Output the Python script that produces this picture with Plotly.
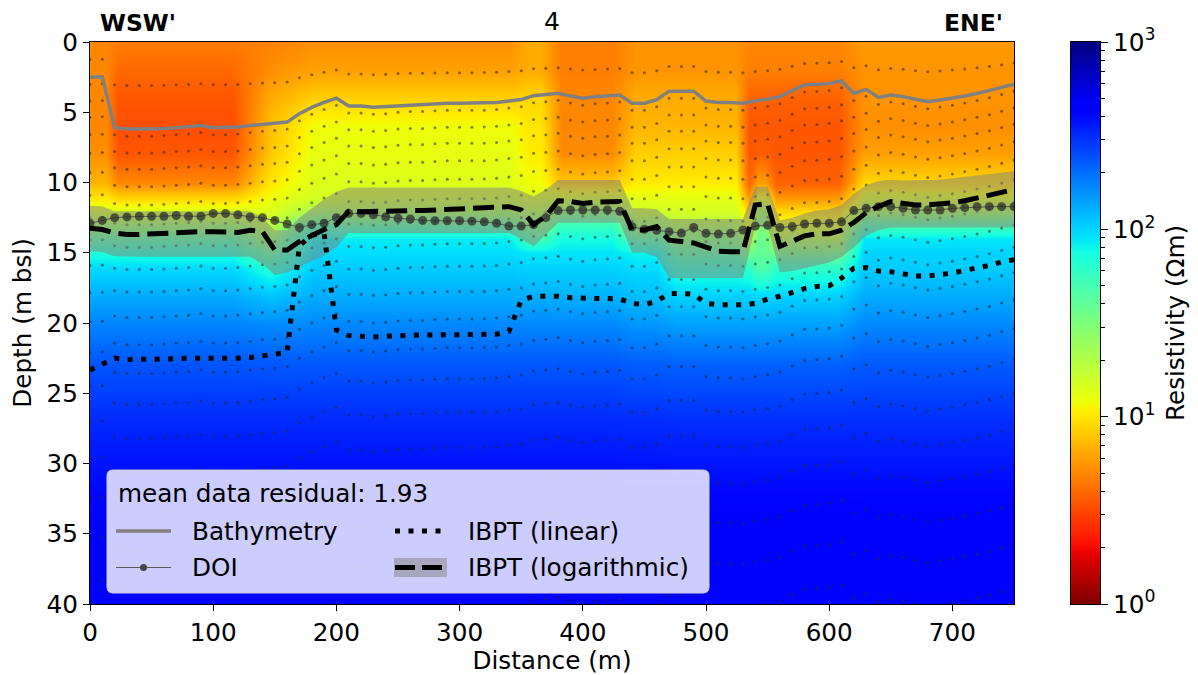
import numpy as np
import plotly.graph_objects as go

# ---------------- data ----------------
sounding_x = list(range(0, 751, 10))

bathymetry = [2.5, 2.47, 6.1, 6.2, 6.2, 6.2, 6.15, 6.1, 6.05, 5.95,
              6.1, 6.1, 6.05, 5.95, 5.85, 5.8, 5.7, 5.1, 4.65, 4.3,
              4.0, 4.55, 4.55, 4.65, 4.6, 4.5, 4.45, 4.45, 4.4, 4.36,
              4.36, 4.36, 4.35, 4.3, 4.2, 4.1, 3.82, 3.75, 3.65, 3.85,
              4.0, 3.9, 3.85, 3.77, 4.36, 4.36, 4.1, 3.5, 3.5, 3.5,
              4.2, 4.3, 4.3, 4.36, 4.2, 4.08, 3.89, 3.45, 3.05, 3.02,
              2.95, 2.76, 3.66, 3.37, 3.94, 3.77, 3.89, 4.08, 4.25, 4.13,
              4.0, 3.84, 3.66, 3.47, 3.23, 3.0]

doi = [12.9, 12.7, 12.5, 12.45, 12.4, 12.4, 12.4, 12.35, 12.4, 12.4,
       12.2, 12.2, 12.3, 12.45, 12.5, 12.7, 12.95, 13.2, 13.0, 12.9,
       12.5, 12.2, 12.2, 12.3, 12.45, 12.55, 12.6, 12.7, 12.72, 12.72,
       12.72, 12.75, 12.8, 12.9, 13.1, 13.1, 13.0, 12.5, 12.0, 11.96,
       11.96, 11.96, 11.96, 12.05, 13.15, 13.33, 13.4, 13.5, 13.6, 13.2,
       13.62, 13.67, 13.62, 13.38, 13.1, 13.05, 13.2, 13.14, 12.95, 12.9,
       12.9, 12.8, 12.0, 11.84, 11.72, 11.72, 11.84, 11.96, 11.96, 11.96,
       11.84, 11.79, 11.72, 11.72, 11.72, 11.72]

ibpt_linear = [23.35, 22.9, 22.5, 22.6, 22.6, 22.6, 22.55, 22.55, 22.5, 22.5,
               22.55, 22.55, 22.5, 22.45, 22.35, 22.25, 22.1, 14.5, 13.75, 13.6,
               20.5, 20.9, 20.95, 21.0, 20.95, 20.9, 20.9, 20.85, 20.85, 20.85,
               20.85, 20.8, 20.8, 20.8, 20.6, 18.4, 18.1, 18.1, 18.1, 18.2,
               18.25, 18.25, 18.25, 18.3, 18.6, 18.7, 18.45, 17.9, 17.9, 17.95,
               18.6, 18.7, 18.7, 18.7, 18.6, 18.3, 18.1, 17.85, 17.55, 17.4,
               17.35, 16.8, 16.1, 16.05, 16.3, 16.35, 16.5, 16.65, 16.65, 16.55,
               16.45, 16.25, 16.1, 15.9, 15.65, 15.5]

ibpt_log = [13.26, 13.35, 13.6, 13.7, 13.7, 13.65, 13.6, 13.55, 13.5, 13.5,
            13.5, 13.55, 13.55, 13.4, 13.5, 14.8, 14.8, 14.2, 13.75, 13.35,
            13.0, 12.05, 12.08, 12.05, 12.0, 12.0, 12.0, 12.0, 11.95, 11.95,
            11.9, 11.86, 11.8, 11.72, 11.72, 11.95, 13.0, 12.4, 11.3, 11.35,
            11.5, 11.4, 11.36, 11.36, 13.38, 13.38, 13.14, 14.1, 14.2, 14.3,
            14.6, 14.9, 14.93, 14.93, 11.6, 11.5, 14.55, 14.2, 13.8, 13.65,
            13.65, 13.4, 12.85, 12.15, 11.7, 11.36, 11.5, 11.6, 11.6, 11.55,
            11.45, 11.3, 11.1, 10.9, 10.75, 10.5]

ibpt_log_shallow = [11.65, 11.7, 12.05, 12.05, 12.05, 12.05, 12.05, 12.05, 12.05, 12.05,
                    12.05, 12.05, 12.05, 12.05, 12.5, 13.4, 13.4, 12.5, 11.85, 11.2,
                    10.65, 10.35, 10.35, 10.35, 10.35, 10.35, 10.35, 10.35, 10.35, 10.35,
                    10.35, 10.35, 10.35, 10.35, 10.35, 10.6, 11.0, 10.5, 9.82, 9.82,
                    9.82, 9.82, 9.82, 9.82, 11.84, 11.84, 11.9, 12.6, 12.6, 12.6,
                    12.6, 12.6, 12.6, 12.6, 10.3, 10.3, 12.7, 12.5, 12.2, 12.0,
                    11.9, 11.6, 10.8, 10.2, 9.9, 9.8, 9.85, 9.85, 9.85, 9.8,
                    9.7, 9.6, 9.5, 9.4, 9.3, 9.2]

ibpt_log_deep = [14.9, 14.95, 15.25, 15.28, 15.28, 15.28, 15.28, 15.28, 15.28, 15.28,
                 15.28, 15.28, 15.28, 15.28, 15.8, 16.6, 16.4, 16.0, 15.6, 15.2,
                 14.6, 13.6, 13.6, 13.6, 13.6, 13.6, 13.6, 13.6, 13.6, 13.6,
                 13.6, 13.6, 13.6, 13.6, 13.6, 14.0, 14.55, 13.7, 12.86, 12.86,
                 12.86, 12.86, 12.86, 12.86, 15.0, 15.0, 15.3, 16.8, 16.8, 16.8,
                 16.8, 16.8, 16.8, 16.8, 13.15, 13.15, 16.4, 16.3, 16.1, 15.9,
                 15.7, 15.3, 14.6, 13.8, 13.4, 13.2, 13.2, 13.2, 13.2, 13.2,
                 13.2, 13.2, 13.2, 13.2, 13.2, 13.2]

# layer centres below the sea floor of the inversion mesh (m)
mesh_layer_offsets = [0.5, 1.7, 2.85, 4.1, 5.4, 6.8, 8.4, 10.0, 11.6, 13.4,
                      15.35, 17.4, 19.6, 22.0, 24.5, 27.1, 29.9, 32.8, 35.9]

# resistivity section (Ohm m): vertical profiles at depth nodes
res_depths = [0, 2, 4, 6, 8, 10, 11, 12, 13, 14, 15, 16, 18, 20, 23, 27, 32, 40]
res_profiles = {
    "edge":      [5.0, 5.0, 5.0, 5.0, 5.3, 7.0, 10, 14, 25, 45, 70, 95, 130, 170, 240, 320, 410, 450],
    "red":       [4.6, 4.0, 3.5, 3.3, 3.5, 5.0, 8.5, 14, 25, 45, 70, 95, 130, 170, 240, 320, 410, 450],
    "trans":     [4.8, 5.3, 6.5, 7.5, 8.0, 10, 12, 14, 18, 26, 40, 65, 110, 160, 235, 320, 410, 450],
    "yellow":    [5.3, 6.0, 8.5, 12, 13, 14, 15, 22, 45, 85, 95, 105, 130, 165, 235, 320, 410, 450],
    "ystripe":   [6.5, 6.5, 9.0, 10, 10.5, 12, 14, 20, 30, 50, 88, 100, 128, 165, 235, 320, 410, 460],
    "omid":      [4.7, 4.7, 5.0, 5.0, 5.2, 8.0, 14, 28, 55, 75, 90, 100, 125, 165, 235, 320, 410, 460],
    "lorange_a": [5.5, 5.5, 6.5, 7.0, 8.5, 10.5, 13, 16, 25, 45, 80, 95, 115, 150, 225, 315, 410, 470],
    "lorange":   [5.5, 5.5, 6.5, 7.0, 8.5, 10.5, 13, 15, 20, 30, 45, 65, 100, 140, 220, 310, 410, 470],
    "red2":      [5.0, 4.7, 3.8, 3.5, 3.5, 3.8, 5.5, 9, 13, 20, 35, 60, 100, 140, 220, 310, 410, 470],
    "spike":     [5.0, 4.7, 3.8, 3.5, 3.7, 6.0, 12, 22, 30, 36, 40, 45, 95, 140, 220, 310, 410, 470],
    "right":     [5.7, 5.5, 5.5, 5.3, 6.0, 9.0, 13, 22, 50, 88, 100, 105, 130, 165, 230, 310, 410, 480],
}
res_column_x = [0, 13, 23, 116, 146, 182, 340, 356, 366, 382, 424, 442, 460, 476,
                524, 535, 542, 548, 557, 608, 628, 750]
res_column_profile = ["edge", "edge", "red", "red", "trans", "yellow", "yellow", "ystripe",
                      "ystripe", "omid", "omid", "lorange_a", "lorange_a", "lorange",
                      "lorange", "red2", "spike", "spike", "red2", "red2", "right", "right"]

colorbar_ticks = [0, 1, 2, 3]
colorbar_ticktext = ["10<sup>0</sup>", "10<sup>1</sup>", "10<sup>2</sup>", "10<sup>3</sup>"]

# ---------------- colour map (matplotlib jet, reversed) ----------------
jet = {
    "r": [(0, 0), (0.35, 0), (0.66, 1), (0.89, 1), (1, 0.5)],
    "g": [(0, 0), (0.125, 0), (0.375, 1), (0.64, 1), (0.91, 0), (1, 0)],
    "b": [(0, 0.5), (0.11, 1), (0.34, 1), (0.65, 0), (1, 0)],
}
bps = sorted({p for ch in jet.values() for p, _ in ch})


def jet_rgb(t):
    out = []
    for ch in ("r", "g", "b"):
        xs = [p for p, _ in jet[ch]]
        vs = [v for _, v in jet[ch]]
        out.append(int(round(255 * float(np.interp(t, xs, vs)))))
    return "rgb(%d,%d,%d)" % tuple(out)


jet_r_scale = [[1 - t, jet_rgb(t)] for t in reversed(bps)]
jet_r_scale[0][0] = 0.0
jet_r_scale[-1][0] = 1.0

# ---------------- figure ----------------
FONT = "DejaVu Sans"
FS = 24.7
z = [[np.log10(res_profiles[p][i]) for p in res_column_profile] for i in range(len(res_depths))]

fig = go.Figure()
fig.add_trace(go.Heatmap(x=res_column_x, y=res_depths, z=z, zmin=0, zmax=3,
                         colorscale=jet_r_scale, zsmooth="best", showscale=False,
                         hoverinfo="skip", xaxis="x", yaxis="y"))

# mesh cell centres
mx, my = [], []
for xs, b in zip(sounding_x, bathymetry):
    mx.append(xs)
    my.append(b / 2.0)
    for off in mesh_layer_offsets:
        if b + off <= 40:
            mx.append(xs)
            my.append(b + off)
fig.add_trace(go.Scatter(x=mx, y=my, mode="markers",
                         marker=dict(size=3, color="rgba(40,40,40,0.55)"),
                         hoverinfo="skip"))

# IBPT uncertainty band
fig.add_trace(go.Scatter(x=sounding_x, y=ibpt_log_shallow, mode="lines",
                         line=dict(width=0, color="rgba(0,0,0,0)"), hoverinfo="skip"))
fig.add_trace(go.Scatter(x=sounding_x, y=ibpt_log_deep, mode="lines", fill="tonexty",
                         fillcolor="rgba(128,128,128,0.5)",
                         line=dict(width=0, color="rgba(0,0,0,0)"), hoverinfo="skip"))

fig.add_trace(go.Scatter(x=sounding_x, y=bathymetry, mode="lines", name="Bathymetry",
                         line=dict(color="rgb(128,128,128)", width=3.5)))
fig.add_trace(go.Scatter(x=sounding_x, y=doi, mode="lines+markers", name="DOI",
                         line=dict(color="rgba(80,80,80,0.9)", width=1),
                         marker=dict(size=9, color="rgba(40,40,40,0.72)")))
fig.add_trace(go.Scatter(x=sounding_x, y=ibpt_linear, mode="lines", name="IBPT (linear)",
                         line=dict(color="black", width=5, dash="5px,8.5px")))
fig.add_trace(go.Scatter(x=sounding_x, y=ibpt_log, mode="lines", name="IBPT (logarithmic)",
                         line=dict(color="black", width=5, dash="21px,8px")))

# colour bar drawn on its own axes
levels = np.linspace(0, 3, 301)
fig.add_trace(go.Heatmap(x=[0.5], y=levels, z=[[v] for v in levels], zmin=0, zmax=3,
                         colorscale=jet_r_scale, showscale=False, hoverinfo="skip",
                         xaxis="x2", yaxis="y2"))

# ---------------- layout ----------------
# the page body adds an 8 px offset, so the figure is 8 px smaller and margins shifted
OFF = 8
W, H = 1198 - OFF, 675 - OFF
L, R, T, B = 90 - OFF, 98, 42 - OFF, 71
plot_w = W - L - R  # 1010
main_w = 924
cb_left = 981

axis_common = dict(showline=True, linecolor="black", linewidth=1.2, mirror=True,
                   showgrid=False, zeroline=False, ticks="outside", ticklen=6,
                   tickwidth=1.2, tickcolor="black", automargin=False,
                   tickfont=dict(family=FONT, size=FS, color="black"))

fig.update_layout(
    width=W, height=H, margin=dict(l=L, r=R, t=T, b=B, autoexpand=False),
    plot_bgcolor="white", paper_bgcolor="white", showlegend=False,
    font=dict(family=FONT, size=FS, color="black"),
    xaxis=dict(domain=[0, main_w / plot_w], range=[0, 750],
               tickvals=[0, 100, 200, 300, 400, 500, 600, 700],
               title=dict(text="Distance (m)", font=dict(family=FONT, size=FS), standoff=6),
               **axis_common),
    yaxis=dict(domain=[0, 1], range=[40, 0], tickvals=[0, 5, 10, 15, 20, 25, 30, 35, 40],
               title=dict(text="Depth (m bsl)", font=dict(family=FONT, size=FS), standoff=10),
               **axis_common),
    xaxis2=dict(domain=[cb_left / plot_w, 1], range=[0, 1], anchor="y2", automargin=False,
                showticklabels=False, ticks="", showline=True, linecolor="black",
                linewidth=1.2, mirror=True, showgrid=False, zeroline=False),
    yaxis2=dict(domain=[0, 1], range=[0, 3], anchor="x2", side="right", automargin=False,
                tickvals=colorbar_ticks, ticktext=colorbar_ticktext,
                ticks="outside", ticklen=7, tickwidth=1.2, tickcolor="black",
                minor=dict(tickvals=[float(np.log10(k * 10 ** n)) for n in range(3) for k in range(2, 10)],
                           ticks="outside", ticklen=4, tickwidth=1, tickcolor="black"),
                showline=True, linecolor="black", linewidth=1.2, mirror=True,
                showgrid=False, zeroline=False,
                tickfont=dict(family=FONT, size=FS, color="black"),
                title=dict(text="Resistivity (Ωm)", font=dict(family=FONT, size=FS), standoff=12)),
)

# titles above the section
ann = [
    dict(text="4", x=0.5, y=(604 - 22) / 562, xref="x domain", yref="y domain",
         showarrow=False, xanchor="center", yanchor="middle",
         font=dict(family=FONT, size=25, color="black")),
    dict(text="<b>WSW'</b>", x=8 / main_w, y=(604 - 23) / 562, xref="x domain", yref="y domain",
         showarrow=False, xanchor="left", yanchor="middle",
         font=dict(family=FONT, size=23.5, color="black")),
    dict(text="<b>ENE'</b>", x=(1005 - 90) / main_w, y=(604 - 23) / 562, xref="x domain",
         yref="y domain", showarrow=False, xanchor="right", yanchor="middle",
         font=dict(family=FONT, size=23.5, color="black")),
]


# custom legend box (pixel layout of the reference converted to axis units)
def px2x(px):
    return (px - 90) / 1.232


def py2y(py):
    return (py - 42) / 14.05


x0, x1, y0, y1 = px2x(107), px2x(709), py2y(470), py2y(593)
dx, dy = 6 / 1.232, 6 / 14.05
path = (f"M {x0+dx},{y0} L {x1-dx},{y0} Q {x1},{y0} {x1},{y0+dy} L {x1},{y1-dy} "
        f"Q {x1},{y1} {x1-dx},{y1} L {x0+dx},{y1} Q {x0},{y1} {x0},{y1-dy} "
        f"L {x0},{y0+dy} Q {x0},{y0} {x0+dx},{y0} Z")
shapes = [
    dict(type="path", path=path, xref="x", yref="y", layer="above",
         fillcolor="rgba(255,255,255,0.8)", line=dict(color="rgb(204,204,204)", width=1)),
    dict(type="line", xref="x", yref="y", layer="above", x0=px2x(116), x1=px2x(171),
         y0=py2y(531), y1=py2y(531), line=dict(color="rgb(128,128,128)", width=3.5)),
    dict(type="line", xref="x", yref="y", layer="above", x0=px2x(116), x1=px2x(171),
         y0=py2y(567.5), y1=py2y(567.5), line=dict(color="rgb(90,90,90)", width=1)),
    dict(type="circle", xref="x", yref="y", layer="above", x0=px2x(140), x1=px2x(147),
         y0=py2y(564), y1=py2y(571), fillcolor="rgb(70,70,70)", line=dict(width=0)),
    dict(type="line", xref="x", yref="y", layer="above", x0=px2x(395), x1=px2x(442),
         y0=py2y(531), y1=py2y(531), line=dict(color="black", width=5, dash="5px,8.5px")),
    dict(type="rect", xref="x", yref="y", layer="above", x0=px2x(394), x1=px2x(447),
         y0=py2y(558), y1=py2y(577), fillcolor="rgba(128,128,128,0.5)", line=dict(width=0)),
    dict(type="line", xref="x", yref="y", layer="above", x0=px2x(395), x1=px2x(446),
         y0=py2y(567.5), y1=py2y(567.5), line=dict(color="black", width=5, dash="20px,7px")),
]
legend_text = [("mean data residual: 1.93", 116, 493), ("Bathymetry", 190, 531),
               ("DOI", 190, 567.5), ("IBPT (linear)", 466, 531),
               ("IBPT (logarithmic)", 466, 567.5)]
for txt, px, py in legend_text:
    ann.append(dict(text=txt, x=px2x(px), y=py2y(py), xref="x", yref="y", showarrow=False,
                    xanchor="left", yanchor="middle",
                    font=dict(family=FONT, size=FS, color="black")))

fig.update_layout(annotations=ann, shapes=shapes)
fig.write_html("out.html")
